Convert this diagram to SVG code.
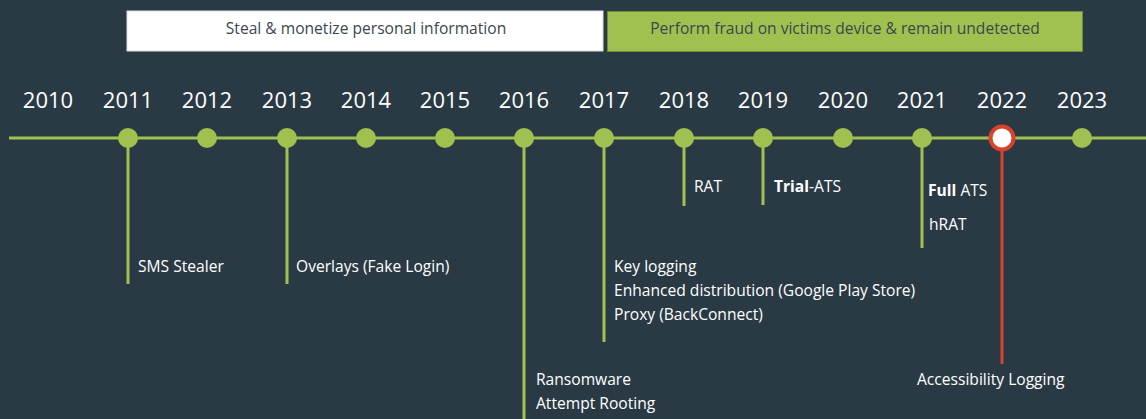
<svg xmlns="http://www.w3.org/2000/svg" width="1146" height="419" viewBox="0 0 1146 419">
<style>
.yr{font-family:"Open Sans","Liberation Sans",sans-serif;font-size:22px;fill:#ffffff;text-anchor:middle}
.lb{font-family:"Open Sans","Liberation Sans",sans-serif;font-size:15.6px;fill:#ffffff}
.bx{font-family:"Open Sans","Liberation Sans",sans-serif;font-size:15.6px;fill:#3a4650;text-anchor:middle}
.dot{fill:#a0c14f}
.stem{stroke:#a0c14f;stroke-width:3;fill:none}
</style>
<rect width="1146" height="419" fill="#2a3a45"/>
<g id="phase1">
<rect x="127" y="11" width="476" height="40" fill="#ffffff" stroke="#d9dde0" stroke-width="1"/>
<text class="bx" x="366" y="33.5">Steal &amp; monetize personal information</text>
</g>
<g id="phase2">
<rect x="607.5" y="11.5" width="475" height="40" fill="#a0c14f" stroke="#6f8a3a" stroke-width="1"/>
<text class="bx" x="845" y="33.5">Perform fraud on victims device &amp; remain undetected</text>
</g>
<g id="years">
<text class="yr" x="48" y="108">2010</text>
<text class="yr" x="128" y="108">2011</text>
<text class="yr" x="207" y="108">2012</text>
<text class="yr" x="287" y="108">2013</text>
<text class="yr" x="366" y="108">2014</text>
<text class="yr" x="445" y="108">2015</text>
<text class="yr" x="524" y="108">2016</text>
<text class="yr" x="604" y="108">2017</text>
<text class="yr" x="684" y="108">2018</text>
<text class="yr" x="763" y="108">2019</text>
<text class="yr" x="843" y="108">2020</text>
<text class="yr" x="922" y="108">2021</text>
<text class="yr" x="1002" y="108">2022</text>
<text class="yr" x="1082" y="108">2023</text>
</g>
<g id="connectors">
<line x1="9" y1="138" x2="1146" y2="138" class="stem"/>
<line x1="128" y1="138" x2="128" y2="284" class="stem"/>
<line x1="287" y1="138" x2="287" y2="284" class="stem"/>
<line x1="524" y1="138" x2="524" y2="419" class="stem"/>
<line x1="604" y1="138" x2="604" y2="342" class="stem"/>
<line x1="684" y1="138" x2="684" y2="206" class="stem"/>
<line x1="763" y1="138" x2="763" y2="205" class="stem"/>
<line x1="922" y1="138" x2="922" y2="248" class="stem"/>
<line x1="1002" y1="138" x2="1002" y2="364" stroke="#d9412b" stroke-width="3"/>
</g>
<g id="dots">
<circle class="dot" cx="128" cy="138" r="10"/>
<circle class="dot" cx="207" cy="138" r="10"/>
<circle class="dot" cx="287" cy="138" r="10"/>
<circle class="dot" cx="366" cy="138" r="10"/>
<circle class="dot" cx="445" cy="138" r="10"/>
<circle class="dot" cx="524" cy="138" r="10"/>
<circle class="dot" cx="604" cy="138" r="10"/>
<circle class="dot" cx="684" cy="138" r="10"/>
<circle class="dot" cx="763" cy="138" r="10"/>
<circle class="dot" cx="843" cy="138" r="10"/>
<circle class="dot" cx="922" cy="138" r="10"/>
<circle cx="1002" cy="138" r="11.5" fill="#ffffff" stroke="#d9412b" stroke-width="4"/>
<circle class="dot" cx="1082" cy="138" r="10"/>
</g>
<g id="e2011"><text class="lb" x="138" y="272">SMS Stealer</text></g>
<g id="e2013"><text class="lb" x="296" y="272">Overlays (Fake Login)</text></g>
<g id="e2016">
<text class="lb" x="536" y="385">Ransomware</text>
<text class="lb" x="536" y="409">Attempt Rooting</text>
</g>
<g id="e2017">
<text class="lb" x="614" y="272">Key logging</text>
<text class="lb" x="614" y="296">Enhanced distribution (Google Play Store)</text>
<text class="lb" x="614" y="320">Proxy (BackConnect)</text>
</g>
<g id="e2018"><text class="lb" x="694" y="192">RAT</text></g>
<g id="e2019"><text class="lb" x="774" y="192"><tspan font-weight="bold">Trial</tspan>-ATS</text></g>
<g id="e2021">
<text class="lb" x="928" y="196" font-size="16.5"><tspan font-weight="bold">Full</tspan> ATS</text>
<text class="lb" x="929" y="230">hRAT</text>
</g>
<g id="e2022"><text class="lb" x="917" y="385">Accessibility Logging</text></g>
</svg>
